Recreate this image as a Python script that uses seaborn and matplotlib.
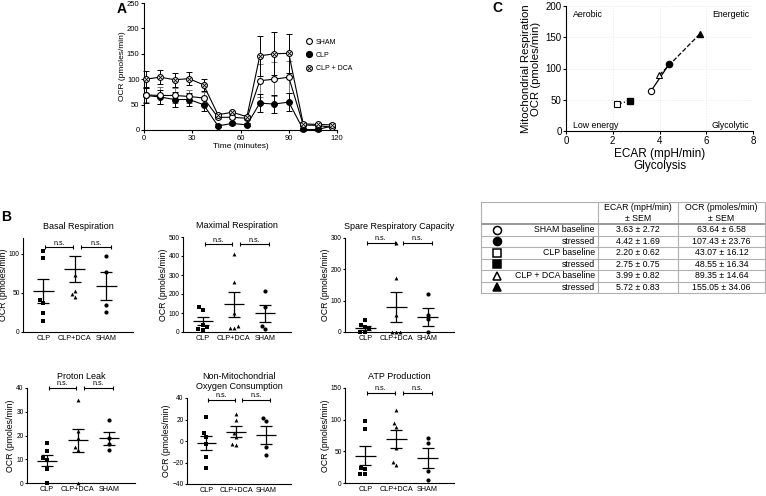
import numpy as np
import pandas as pd
import matplotlib
matplotlib.use("Agg")
import matplotlib.pyplot as plt
import seaborn as sns
from matplotlib.lines import Line2D

# ---- panel A: OCR time course (mean +/- SEM) ----
time_min = [1, 10, 19, 28, 37, 46, 55, 64, 72, 81, 90, 99, 108, 117]
sham_ocr = [69, 68, 68, 66, 63, 25, 25, 23, 97, 100, 104, 10, 9, 5]
sham_sem = [14, 16, 14, 13, 12, 4, 4, 4, 32, 33, 32, 3, 3, 2]
clp_ocr = [68, 65, 60, 60, 50, 8, 13, 10, 53, 51, 55, 1, 1, 8]
clp_sem = [14, 13, 14, 13, 13, 3, 3, 3, 17, 18, 18, 2, 2, 2]
dca_ocr = [100, 104, 99, 101, 89, 30, 35, 26, 146, 150, 151, 12, 11, 10]
dca_sem = [16, 14, 14, 13, 12, 3, 3, 3, 39, 42, 38, 3, 3, 3]

# ---- panel B: individual animals, mean and SEM per group ----
groups = ["CLP", "CLP+DCA", "SHAM"]

basal_clp = [103, 94, 41, 37, 24, 14]
basal_dca = [73, 52, 48, 45]
basal_sham = [97, 76, 34, 25]
basal_mean = [52, 80.6, 58.6]
basal_sem = [15.2, 17, 17.5]

maximal_clp = [131, 117, 38, 26, 17, 12]
maximal_dca = [413, 265, 99, 30, 21, 21]
maximal_sham = [216, 131, 33, 17]
maximal_mean = [57, 146, 99]
maximal_sem = [21.6, 66, 45]

spare_clp = [39, 23, 16, 8, 0, 0]
spare_dca = [285, 172, 55, 0, 0, 0]
spare_sham = [122, 55, 41, 0]
spare_mean = [13, 80, 48]
spare_sem = [7, 47, 28]

proton_clp = [16.9, 13.3, 10.7, 9.7, 5.7, 0]
proton_dca = [35, 22, 19, 15, 14, 0]
proton_sham = [26.4, 19, 16.6, 14]
proton_mean = [9.3, 17.9, 18.8]
proton_sem = [2.3, 4.7, 2.8]

nonmito_clp = [22, 7.5, 4, -3, -15, -25]
nonmito_dca = [25, 20, 7, 4, -3, -4]
nonmito_sham = [21.5, 18.7, -6, -13]
nonmito_mean = [-1.7, 8.5, 5.4]
nonmito_sem = [6.8, 5.2, 8.3]

atp_clp = [98.6, 84.8, 24.4, 22.8, 14.8, 13.8]
atp_dca = [114.5, 94.3, 89, 54.6, 33, 29]
atp_sham = [71.5, 63.6, 19, 5.3]
atp_mean = [43, 69.4, 39.7]
atp_sem = [15.1, 14.6, 16]

# ---- panel C + table: energy map ----
energy_labels = ["SHAM baseline", "stressed", "CLP baseline", "stressed",
                 "CLP + DCA baseline", "stressed"]
ecar_mean = [3.63, 4.42, 2.20, 2.75, 3.99, 5.72]
ecar_sem = [2.72, 1.69, 0.62, 0.75, 0.82, 0.83]
ocr_mean = [63.64, 107.43, 43.07, 48.55, 89.35, 155.05]
ocr_sem = [6.58, 23.76, 16.12, 16.34, 14.64, 34.06]


sns.set_theme(style="ticks")
plt.rcParams['font.family'] = ['Liberation Sans', 'DejaVu Sans']
plt.rcParams.update({
    'axes.linewidth': 0.8, 'axes.edgecolor': 'black',
    'xtick.major.size': 2.2, 'ytick.major.size': 2.2,
    'xtick.major.width': 0.8, 'ytick.major.width': 0.8,
    'xtick.major.pad': 1.2, 'ytick.major.pad': 1.0,
    'xtick.color': 'black', 'ytick.color': 'black',
    'text.color': 'black', 'axes.labelcolor': 'black',
})

W, H = 766, 496
fig = plt.figure(figsize=(W / 100, H / 100), dpi=100)


def px_axes(l, t, r, b):
    return fig.add_axes([l / W, 1 - b / H, (r - l) / W, (b - t) / H])


# ---------------- A ----------------
axA = px_axes(144, 3, 337, 130)
axA.errorbar(time_min, sham_ocr, yerr=sham_sem, fmt='none', ecolor='#777777',
             elinewidth=0.7, capsize=2.2, capthick=0.7, zorder=2, clip_on=False)
axA.errorbar(time_min, clp_ocr, yerr=clp_sem, fmt='none', ecolor='black',
             elinewidth=0.7, capsize=2.2, capthick=0.7, zorder=2, clip_on=False)
axA.errorbar(time_min, dca_ocr, yerr=dca_sem, fmt='none', ecolor='black',
             elinewidth=0.7, capsize=2.2, capthick=0.7, zorder=2, clip_on=False)
sns.lineplot(x=time_min, y=clp_ocr, ax=axA, color='black', lw=0.8, marker='o',
             ms=4.2, mfc='black', mec='black', zorder=3, clip_on=False)
sns.lineplot(x=time_min, y=sham_ocr, ax=axA, color='black', lw=0.8, marker='o',
             ms=4.2, mfc='white', mec='black', mew=0.8, zorder=4, clip_on=False)
sns.lineplot(x=time_min, y=dca_ocr, ax=axA, color='black', lw=0.8, marker='o',
             ms=4.2, mfc='white', mec='black', mew=0.8, zorder=5, clip_on=False)
axA.plot(time_min, dca_ocr, ls='none', marker='x', ms=2.6, mew=0.6,
         color='black', zorder=6, clip_on=False)
axA.set_xlim(0, 120)
axA.set_ylim(0, 250)
axA.set_xticks([0, 30, 60, 90, 120])
axA.set_yticks([0, 50, 100, 150, 200, 250])
axA.tick_params(labelsize=5.5)
axA.set_xlabel("Time (minutes)", fontsize=6, labelpad=1)
axA.set_ylabel("OCR (pmoles/min)", fontsize=6, labelpad=1)
sns.despine(ax=axA)

h_sham = Line2D([], [], ls='none', marker='o', ms=4.2, mfc='white', mec='black', mew=0.8)
h_clp = Line2D([], [], ls='none', marker='o', ms=4.2, mfc='black', mec='black')
h_dca = (Line2D([], [], ls='none', marker='o', ms=4.2, mfc='white', mec='black', mew=0.8),
         Line2D([], [], ls='none', marker='x', ms=2.6, mew=0.6, color='black'))
axA.legend([h_sham, h_clp, h_dca], ["SHAM", "CLP", "CLP + DCA"],
           loc='upper left', bbox_to_anchor=(0.835, 0.72), frameon=False,
           fontsize=5, handlelength=1, handletextpad=0.5, labelspacing=0.9,
           borderpad=0, borderaxespad=0)

# ---------------- B ----------------
markers = {"CLP": "s", "CLP+DCA": "^", "SHAM": "o"}
msize = {"CLP": 3.3, "CLP+DCA": 2.8, "SHAM": 3.0}


def draw_group_panel(ax, title, values, mean, sem, yticks, ylim, bracket_y):
    rows = [(g, v) for g, vals in zip(groups, values) for v in vals]
    df = pd.DataFrame(rows, columns=["group", "ocr"])
    for g in groups:
        sns.swarmplot(data=df[df.group == g], x="group", y="ocr", order=groups,
                      marker=markers[g], color="black", size=msize[g], ax=ax,
                      clip_on=False, zorder=3)
    xs = np.arange(len(groups))
    ax.errorbar(xs, mean, yerr=sem, fmt='none', ecolor='black', elinewidth=0.9,
                capsize=4.2, capthick=0.9, zorder=4)
    ax.hlines(mean, xs - 0.33, xs + 0.33, color='black', lw=0.9, zorder=4)
    # n.s. brackets
    for x0, x1 in [(0.05, 0.95), (1.2, 2.15)]:
        ax.plot([x0, x1], [bracket_y, bracket_y], color='black', lw=0.8,
                marker='|', ms=3, mew=0.8, clip_on=False)
        ax.annotate("n.s.", ((x0 + x1) / 2, bracket_y), xytext=(0, 0.6),
                    textcoords='offset points', ha='center', va='bottom',
                    fontsize=5.2, annotation_clip=False)
    ax.set_xlim(-0.65, 2.85)
    ax.set_ylim(*ylim)
    ax.set_yticks(yticks)
    ax.tick_params(axis='y', labelsize=4.8, length=1.8, pad=0.6)
    ax.tick_params(axis='x', labelsize=5.2, length=0, pad=2.5)
    ax.set_xlabel("")
    ax.set_ylabel("OCR (pmoles/min)", fontsize=6.3, labelpad=0.8)
    ax.set_title(title, fontsize=6.5, pad=6.5, linespacing=1.15)
    sns.despine(ax=ax)


panels = [
    ("Basal Respiration", [basal_clp, basal_dca, basal_sham], basal_mean, basal_sem,
     [0, 50, 100], (0, 120), 108, (23, 238, 133, 332)),
    ("Maximal Respiration", [maximal_clp, maximal_dca, maximal_sham], maximal_mean,
     maximal_sem, [0, 100, 200, 300, 400, 500], (0, 500), 461, (183, 237, 291, 332)),
    ("Spare Respiratory Capacity", [spare_clp, spare_dca, spare_sham], spare_mean,
     spare_sem, [0, 100, 200, 300], (0, 300), 284, (345, 238, 454, 332)),
    ("Proton Leak", [proton_clp, proton_dca, proton_sham], proton_mean, proton_sem,
     [0, 10, 20, 30, 40], (0, 40), 40, (27, 388, 135, 483)),
    ("Non-Mitochondrial\nOxygen Consumption", [nonmito_clp, nonmito_dca, nonmito_sham],
     nonmito_mean, nonmito_sem, [-40, -20, 0, 20, 40], (-40, 40), 38.5,
     (187, 398, 291, 484)),
    ("ATP Production", [atp_clp, atp_dca, atp_sham], atp_mean, atp_sem,
     [0, 50, 100, 150], (0, 150), 142, (345, 388, 454, 483)),
]
for title, vals, mean, sem, yticks, ylim, by, rect in panels:
    ax = px_axes(*rect)
    draw_group_panel(ax, title, vals, mean, sem, yticks, ylim, by)

# ---------------- C ----------------
axC = px_axes(566, 6, 753, 131)
pair_styles = [('-', 'o'), (':', 's'), ('--', '^')]
for i, (ls, mk) in enumerate(pair_styles):
    b, s = 2 * i, 2 * i + 1
    axC.plot([ecar_mean[b], ecar_mean[s]], [ocr_mean[b], ocr_mean[s]],
             color='black', ls=ls, lw=0.9, zorder=2)
    axC.plot(ecar_mean[b], ocr_mean[b], marker=mk, ms=4.5, mfc='white',
             mec='black', mew=0.8, ls='none', zorder=3)
    axC.plot(ecar_mean[s], ocr_mean[s], marker=mk, ms=4.5, mfc='black',
             mec='black', ls='none', zorder=3)
axC.set_xlim(0, 8)
axC.set_ylim(0, 200)
axC.set_xticks([0, 2, 4, 6, 8])
axC.set_yticks([0, 50, 100, 150, 200])
axC.grid(True, color='#e6e6e6', lw=0.5, ls=(0, (2, 2)))
axC.tick_params(labelsize=7)
axC.set_xlabel("ECAR (mpH/min)\nGlycolysis", fontsize=8.5, labelpad=2, linespacing=1.0)
axC.set_ylabel("Mitochondrial Respiration\nOCR (pmoles/min)", fontsize=8.2,
               labelpad=3, linespacing=1.05)
for txt, x, y, ha in [("Aerobic", 0.29, 186, 'left'), ("Energetic", 7.84, 186, 'right'),
                      ("Low energy", 0.29, 9, 'left'), ("Glycolytic", 7.84, 9, 'right')]:
    axC.text(x, y, txt, ha=ha, va='center', fontsize=6.3)
sns.despine(ax=axC)

# ---------------- table ----------------
tab = px_axes(481, 202, 765, 293)
tab.set_xlim(481, 765)
tab.set_ylim(293, 202)
tab.axis('off')
line_c = '#b0b0b0'
row_edges = [224 + 11.5 * i for i in range(7)]
tab.plot([481, 765, 765, 481, 481], [202, 202, 293, 293, 202], color=line_c, lw=0.8,
         clip_on=False)
for x in [598, 678]:
    tab.plot([x, x], [202, 293], color=line_c, lw=0.8)
tab.plot([481, 765], [224, 224], color='#999999', lw=1.4)
for y in row_edges[1:-1]:
    tab.plot([481, 765], [y, y], color=line_c, lw=0.8)
tab.text(638, 208, "ECAR (mpH/min)", ha='center', va='center', fontsize=6.3)
tab.text(638, 218.5, "± SEM", ha='center', va='center', fontsize=6.3)
tab.text(721.5, 208, "OCR (pmoles/min)", ha='center', va='center', fontsize=6.3)
tab.text(721.5, 218.5, "± SEM", ha='center', va='center', fontsize=6.3)
row_marks = ['o', 'o', 's', 's', '^', '^']
row_fill = ['white', 'black', 'white', 'black', 'white', 'black']
for i in range(6):
    yc = (row_edges[i] + row_edges[i + 1]) / 2
    tab.plot(497, yc, marker=row_marks[i], ms=5.8, mfc=row_fill[i], mec='black',
             mew=1.1, ls='none')
    tab.text(595, yc, energy_labels[i], ha='right', va='center', fontsize=6.3)
    tab.text(638, yc, f"{ecar_mean[i]:.2f} ± {ecar_sem[i]:.2f}", ha='center',
             va='center', fontsize=6.3)
    tab.text(721.5, yc, f"{ocr_mean[i]:.2f} ± {ocr_sem[i]:.2f}", ha='center',
             va='center', fontsize=6.3)

# panel letters
for letter, x, y in [("A", 122, 9), ("B", 6, 217), ("C", 497, 8)]:
    fig.text(x / W, 1 - y / H, letter, ha='center', va='center', fontsize=10,
             fontweight='bold')

fig.savefig("out.png", dpi=100)
